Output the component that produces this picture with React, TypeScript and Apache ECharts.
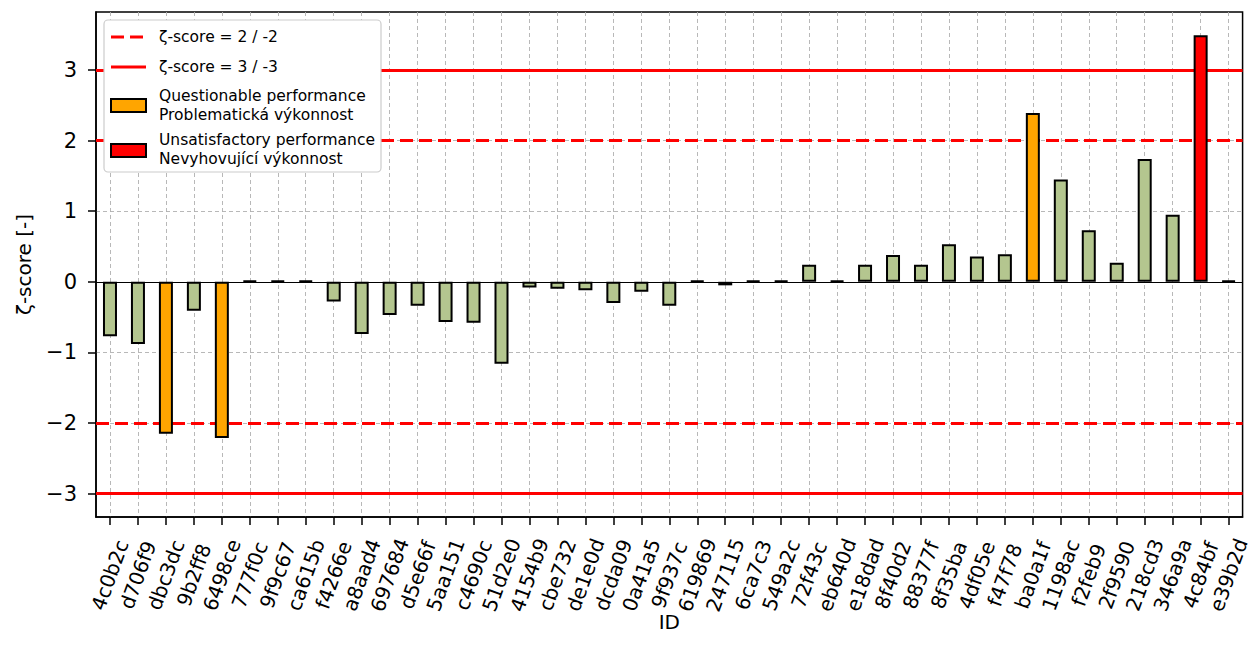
import React, { useEffect, useRef } from 'react';
import * as echarts from 'echarts';

const ids = [
  '4c0b2c', 'd706f9', 'dbc3dc', '9b2ff8', '6498ce', '777f0c', '9f9c67', 'ca615b', 'f4266e', 'a8aad4',
  '697684', 'd5e66f', '5aa151', 'c4690c', '51d2e0', '4154b9', 'cbe732', 'de1e0d', 'dcda09', '0a41a5',
  '9f937c', '619869', '247115', '6ca7c3', '549a2c', '72f43c', 'eb640d', 'e18dad', '8f40d2', '88377f',
  '8f35ba', '4df05e', 'f47f78', 'ba0a1f', '1198ac', 'f2feb9', '2f9590', '218cd3', '346a9a', '4c84bf',
  'e39b2d',
];

const zScores = [
  -0.77, -0.88, -2.15, -0.41, -2.21, 0, 0, 0, -0.28, -0.74,
  -0.47, -0.34, -0.57, -0.58, -1.16, -0.08, -0.10, -0.12, -0.30, -0.14,
  -0.34, 0, -0.05, 0, 0, 0.24, 0, 0.24, 0.38, 0.24,
  0.53, 0.36, 0.39, 2.39, 1.45, 0.73, 0.27, 1.74, 0.95, 3.49,
  0,
];

const yTicks = [-3, -2, -1, 0, 1, 2, 3];
const warningLevel = 2;
const actionLevel = 3;

const FONT = 'DejaVu Sans';

function barColor(v: number): string {
  const a = Math.abs(v);
  if (a >= actionLevel) return '#ff0000';
  if (a >= warningLevel) return '#ffa500';
  return '#b4c68f';
}

export default function App() {
  const ref = useRef<HTMLDivElement>(null);

  useEffect(() => {
    if (!ref.current) return;
    const chart = echarts.init(ref.current, null, { renderer: 'svg' });
    const xIdx = ids.map((_, i) => i);
    const gridLine = { show: true, lineStyle: { color: '#b0b0b0', type: [4, 3] as any, width: 0.9 } };
    const legendText = { fill: '#000', fontSize: 15.5, fontFamily: FONT, verticalAlign: 'middle' as const };

    chart.setOption({
      animation: false,
      backgroundColor: '#ffffff',
      grid: {
        left: 96, right: 7, top: 12, bottom: 140,
        show: true, borderColor: '#000', borderWidth: 1.5, backgroundColor: 'transparent',
      },
      xAxis: {
        type: 'value',
        min: -0.5,
        max: ids.length - 0.5,
        minInterval: 1,
        maxInterval: 1,
        axisLine: { show: true, onZero: false, lineStyle: { color: '#000', width: 1.5 } },
        axisTick: { show: true, length: 8, lineStyle: { color: '#000', width: 1.5 }, customValues: xIdx },
        axisLabel: {
          customValues: xIdx,
          rotate: 70,
          align: 'center',
          verticalAlign: 'middle',
          margin: 58,
          fontSize: 20,
          color: '#000',
          fontFamily: FONT,
          formatter: (v: number) => (Number.isInteger(v) && ids[v] !== undefined ? ids[v] : ''),
        },
        splitLine: gridLine,
        name: 'ID',
        nameLocation: 'middle',
        nameGap: 95,
        nameMoveOverlap: false,
        nameTextStyle: { fontSize: 20, color: '#000', fontFamily: FONT },
      },
      yAxis: {
        type: 'value',
        min: -3.33,
        max: 3.82,
        minInterval: 1,
        maxInterval: 1,
        axisLine: { show: true, onZero: false, lineStyle: { color: '#000', width: 1.5 } },
        axisTick: { show: true, length: 8, lineStyle: { color: '#000', width: 1.5 }, customValues: yTicks },
        axisLabel: {
          customValues: yTicks,
          margin: 19,
          fontSize: 21,
          color: '#000',
          fontFamily: FONT,
          formatter: (v: number) => (Number.isInteger(v) ? String(v).replace('-', '\u2212') : ''),
        },
        splitLine: gridLine,
        name: 'ζ-score [-]',
        nameLocation: 'middle',
        nameGap: 62,
        nameMoveOverlap: false,
        nameTextStyle: { fontSize: 20, color: '#000', fontFamily: FONT },
      },
      series: [
        {
          type: 'bar',
          barWidth: 14,
          barMinHeight: 1,
          z: 3,
          itemStyle: { borderColor: '#000', borderWidth: 2 },
          data: zScores.map((v, i) => ({ value: [i, v], itemStyle: { color: barColor(v) } })),
          markLine: {
            silent: true,
            z: 1,
            symbol: 'none',
            label: { show: false },
            data: [
              { yAxis: 0, lineStyle: { color: '#000', width: 1.2, type: 'solid' } },
              { yAxis: warningLevel, lineStyle: { color: '#ff0000', width: 3, type: [13, 6] } },
              { yAxis: -warningLevel, lineStyle: { color: '#ff0000', width: 3, type: [13, 6] } },
              { yAxis: actionLevel, lineStyle: { color: '#ff0000', width: 3, type: 'solid' } },
              { yAxis: -actionLevel, lineStyle: { color: '#ff0000', width: 3, type: 'solid' } },
            ],
          },
        },
      ],
      graphic: [
        {
          type: 'rect',
          z: 100,
          shape: { x: 104, y: 20, width: 277, height: 152, r: 4 },
          style: { fill: '#ffffff', stroke: '#cccccc', lineWidth: 1.2 },
        },
        {
          type: 'line',
          z: 101,
          shape: { x1: 111, y1: 37, x2: 146, y2: 37 },
          style: { stroke: '#ff0000', lineWidth: 3, lineDash: [13, 6] },
        },
        {
          type: 'text',
          z: 101,
          x: 159, y: 37,
          style: { ...legendText, text: 'ζ-score = 2 / -2' },
        },
        {
          type: 'line',
          z: 101,
          shape: { x1: 111, y1: 67, x2: 146, y2: 67 },
          style: { stroke: '#ff0000', lineWidth: 3 },
        },
        {
          type: 'text',
          z: 101,
          x: 159, y: 67,
          style: { ...legendText, text: 'ζ-score = 3 / -3' },
        },
        {
          type: 'rect',
          z: 101,
          shape: { x: 111, y: 99, width: 35, height: 13 },
          style: { fill: '#ffa500', stroke: '#000', lineWidth: 2 },
        },
        {
          type: 'text',
          z: 101,
          x: 159, y: 105,
          style: { ...legendText, text: 'Questionable performance\nProblematická výkonnost', lineHeight: 19 },
        },
        {
          type: 'rect',
          z: 101,
          shape: { x: 111, y: 144, width: 35, height: 13 },
          style: { fill: '#ff0000', stroke: '#000', lineWidth: 2 },
        },
        {
          type: 'text',
          z: 101,
          x: 159, y: 149,
          style: { ...legendText, text: 'Unsatisfactory performance\nNevyhovující výkonnost', lineHeight: 19 },
        },
      ],
    });

    return () => chart.dispose();
  }, []);

  return <div ref={ref} style={{ position: 'absolute', left: 0, top: 0, width: 1252, height: 657 }} />;
}
